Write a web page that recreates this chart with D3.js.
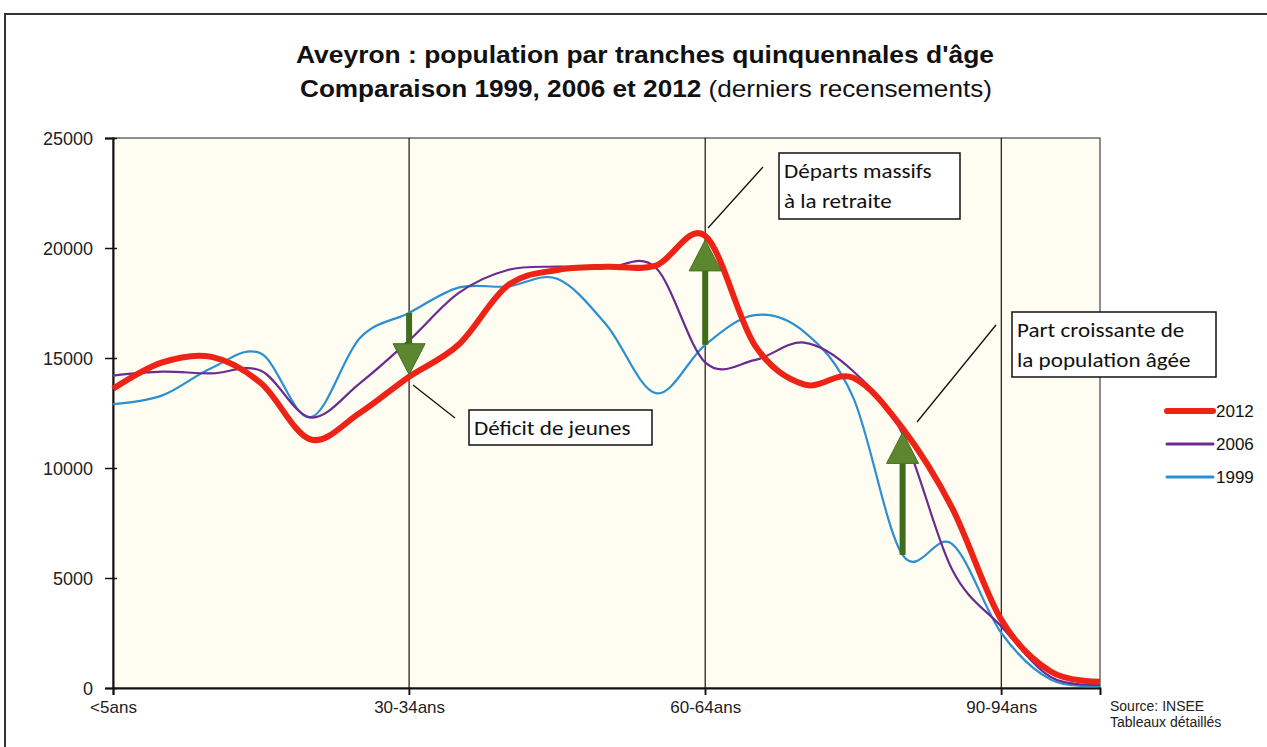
<!DOCTYPE html>
<html>
<head>
<meta charset="utf-8">
<script src="https://cdn.jsdelivr.net/npm/d3@7"></script>
<style>
  body { margin: 0; background: #fff; }
  text { font-family: "Liberation Sans", Arial, sans-serif; }
  .note { font-family: Carlito, Calibri, "Open Sans", sans-serif; }
</style>
</head>
<body>
<script>
const width = 1267;
const height = 747;

// tranches d'âge (21 classes)
const ages = ['<5ans','5-9ans','10-14ans','15-19ans','20-24ans','25-29ans','30-34ans','35-39ans',
  '40-44ans','45-49ans','50-54ans','55-59ans','60-64ans','65-69ans','70-74ans','75-79ans',
  '80-84ans','85-89ans','90-94ans','95-99ans','100ans+'];
const shownAges = ['<5ans','30-34ans','60-64ans','90-94ans'];

const pop2012 = [13600,14800,15050,13850,11300,12500,14150,15600,18300,19000,19150,19200,20550,15600,13800,14100,11800,8200,3100,750,280];
const pop2006 = [14200,14380,14300,14420,12300,13850,15800,17950,19000,19150,19100,19100,14800,14900,15700,14400,11550,5400,2800,500,150];
const pop1999 = [12900,13300,14550,15200,12300,15900,17050,18200,18250,18600,16500,13400,15600,16950,16200,13200,6050,6550,2500,380,100];

const yTicks = [0,5000,10000,15000,20000,25000];

const series = [
  {name:'2012', values:pop2012, color:'#ee2318', w:6},
  {name:'2006', values:pop2006, color:'#6a2d8f', w:2.2},
  {name:'1999', values:pop1999, color:'#2b8fd2', w:2.2}
];

// flèches : de la valeur 1999 vers la valeur 2012
const arrows = ['30-34ans','60-64ans','80-84ans'];

const notes = [
  {lines:['Déficit de jeunes'], box:[469,410,183,35], leader:[[413,385],[455,418]]},
  {lines:['Départs massifs','à la retraite'], box:[779,153,181,66], leader:[[708,228],[763,167]]},
  {lines:['Part croissante de','la population âgée'], box:[1012,312,204,65], leader:[[917,422],[996,325]]}
];

const svg = d3.select('body').append('svg').attr('width',width).attr('height',height);

// cadre extérieur
svg.append('rect').attr('x',5).attr('y',14).attr('width',1270).attr('height',760)
  .attr('fill','#fff').attr('stroke','#333').attr('stroke-width',2);

const m = {left:113, right:1100, top:138, bottom:688};

const x = d3.scalePoint().domain(ages).range([m.left, m.right]);
const y = d3.scaleLinear().domain([0,25000]).range([m.bottom, m.top]);

svg.append('rect').attr('x',m.left).attr('y',m.top)
  .attr('width',m.right-m.left).attr('height',m.bottom-m.top)
  .attr('fill','#fffdf1').attr('stroke','#444').attr('stroke-width',1.2);

// titre
svg.append('text').attr('x',645).attr('y',63).attr('text-anchor','middle')
  .attr('textLength',698).attr('lengthAdjust','spacingAndGlyphs')
  .style('font-size','24px').style('font-weight','bold').attr('fill','#111')
  .text("Aveyron : population par tranches quinquennales d'âge");
const t2 = svg.append('text').attr('x',646).attr('y',97).attr('text-anchor','middle')
  .attr('textLength',692).attr('lengthAdjust','spacingAndGlyphs')
  .style('font-size','24px').attr('fill','#111');
t2.append('tspan').style('font-weight','bold').text('Comparaison 1999, 2006 et 2012');
t2.append('tspan').text(' (derniers recensements)');

// lignes verticales
svg.selectAll('.vgrid').data(shownAges.slice(1)).enter().append('line')
  .attr('class','vgrid')
  .attr('x1',d=>x(d)).attr('x2',d=>x(d)).attr('y1',m.top).attr('y2',m.bottom+7)
  .attr('stroke','#111').attr('stroke-width',1.2);

// axe Y
const yAxis = svg.append('g').attr('transform',`translate(${m.left},0)`)
  .call(d3.axisLeft(y).tickValues(yTicks).tickFormat(d3.format('d')).tickSize(8).tickPadding(12));
yAxis.select('.domain').attr('stroke','#111').attr('stroke-width',2);
yAxis.selectAll('.tick line').attr('stroke','#111').attr('stroke-width',1.5).attr('x2',-8).attr('x1',4);
yAxis.selectAll('.tick text').attr('font-size',18).attr('fill','#222')
  .attr('font-family','"Liberation Sans", Arial').attr('dy','0.36em');

// axe X
const xAxis = svg.append('g').attr('transform',`translate(0,${m.bottom})`)
  .call(d3.axisBottom(x).tickValues(shownAges).tickSize(7).tickPadding(6));
xAxis.select('.domain').attr('stroke','#111').attr('stroke-width',2);
xAxis.selectAll('.tick line').attr('stroke','#111').attr('stroke-width',1.5);
xAxis.selectAll('.tick text').attr('font-size',17).attr('fill','#222')
  .attr('font-family','"Liberation Sans", Arial');

// courbes lissées
const line = d3.line().x((d,i)=>x(ages[i])).y(d=>y(d)).curve(d3.curveCatmullRom.alpha(0));
svg.selectAll('.serie').data(series.slice().reverse()).enter().append('path')
  .attr('class','serie')
  .attr('d',d=>line(d.values))
  .attr('fill','none')
  .attr('stroke',d=>d.color)
  .attr('stroke-width',d=>d.w)
  .attr('stroke-linejoin','round');

// flèches vertes
arrows.forEach(a => {
  const i = ages.indexOf(a);
  const cx = x(a);
  const y0 = y(pop1999[i]);
  const y1 = y(pop2012[i]) + (y(pop2012[i]) < y0 ? 4 : -2);
  const dir = y1 < y0 ? -1 : 1;
  const headLen = 31, headW = 16;
  const g = svg.append('g');
  g.append('rect').attr('x',cx-3).attr('y',Math.min(y0, y1 - dir*headLen))
    .attr('width',6).attr('height',Math.abs(y1 - dir*headLen - y0))
    .attr('fill','#3f6d1b');
  g.append('path')
    .attr('d',`M${cx-headW},${y1-dir*headLen} L${cx+headW},${y1-dir*headLen} L${cx},${y1} Z`)
    .attr('fill','#5c8630').attr('stroke','#44701f').attr('stroke-width',1);
});

// annotations
notes.forEach(n => {
  svg.append('line').attr('x1',n.leader[0][0]).attr('y1',n.leader[0][1])
    .attr('x2',n.leader[1][0]).attr('y2',n.leader[1][1])
    .attr('stroke','#111').attr('stroke-width',1.3);
  svg.append('rect').attr('x',n.box[0]).attr('y',n.box[1]).attr('width',n.box[2]).attr('height',n.box[3])
    .attr('fill','#fff').attr('stroke','#111').attr('stroke-width',1.5);
  n.lines.forEach((l,k) => {
    const t = svg.append('text').attr('class','note').attr('x',n.box[0]+5).attr('y',n.box[1]+25+k*30)
      .style('font-size','21px').attr('fill','#111').text(l);
    t.attr('textLength', t.node().getComputedTextLength()*1.1).attr('lengthAdjust','spacingAndGlyphs');
  });
});

// légende
const leg = svg.append('g');
series.forEach((s,k) => {
  const ly = 411 + k*33;
  leg.append('line').attr('x1',1167).attr('x2',1213).attr('y1',ly).attr('y2',ly)
    .attr('stroke',s.color).attr('stroke-width',s.w===6?6:3).attr('stroke-linecap','round');
  leg.append('text').attr('x',1216).attr('y',ly+6).style('font-size','17px').attr('fill','#111').text(s.name);
});

// source
svg.append('text').attr('x',1110).attr('y',711).style('font-size','14px').attr('fill','#222').text('Source: INSEE');
svg.append('text').attr('x',1110).attr('y',727).style('font-size','14px').attr('fill','#222').text('Tableaux détaillés');
</script>
</body>
</html>
